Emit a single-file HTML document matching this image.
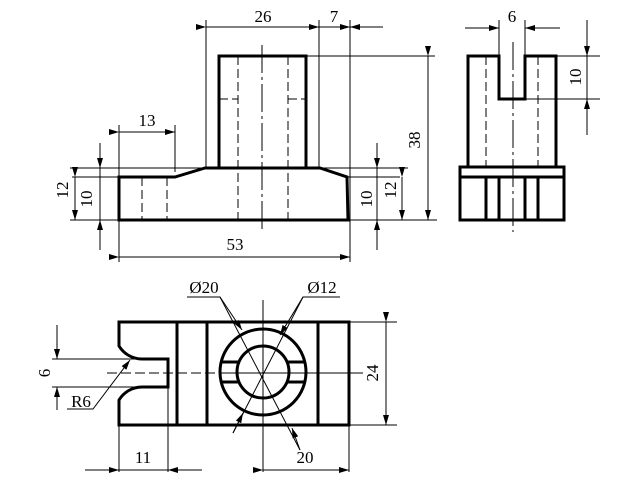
<!DOCTYPE html>
<html><head><meta charset="utf-8"><style>
html,body{margin:0;padding:0;background:#fff;}
svg{display:block}
text{font-family:"Liberation Serif",serif;font-size:17px;fill:#000}
</style></head><body>
<svg width="640" height="480" viewBox="0 0 640 480" xmlns="http://www.w3.org/2000/svg">
<defs>
<marker id="a" markerWidth="10" markerHeight="6" refX="10" refY="3" orient="auto" markerUnits="userSpaceOnUse">
<path d="M0,0 L10,3 L0,6 z" fill="#000"/></marker>
</defs>
<g fill="none" stroke="#000">
<!-- FRONT VIEW -->
<g stroke-width="3">
<path d="M119,177 L175,177 L205,168 L320,168 L347,177 L348,220 L119,220 Z"/>
<path d="M219,168 L219,56 L306,56 L306,168"/>
</g>
<g stroke-width="1" stroke-dasharray="9,4">
<path d="M238,56 V220 M288,56 V220 M142,177 V220 M167,177 V220 M219,99 H238 M288,99 H306"/>
</g>
<path stroke-width="1" stroke-dasharray="28,4,3,4" d="M262,45 V232"/>
<g stroke-width="1">
<path d="M206,20 V168 M319,20 V168 M350,20 V262"/>
<path d="M206,27 H319" marker-start="url(#a)" marker-end="url(#a)"/>
<path d="M319,27 H350" marker-end="url(#a)"/>
<path d="M383,27 H350" marker-end="url(#a)"/>
<path d="M306,56 H435 M348,220 H437 M320,168 H408 M348,177 H400"/>
<path d="M428,56 V220" marker-start="url(#a)" marker-end="url(#a)"/>
<path d="M119,125 V262 M175,125 V172"/>
<path d="M119,132 H175" marker-start="url(#a)" marker-end="url(#a)"/>
<path d="M70,168 H205 M72,177 H119 M70,220 H119"/>
<path d="M100,143 V168" marker-end="url(#a)"/>
<path d="M100,250 V220" marker-end="url(#a)"/>
<path d="M100,168 V220"/>
<path d="M75,177 V220" marker-start="url(#a)" marker-end="url(#a)"/>
<path d="M377,143 V168" marker-end="url(#a)"/>
<path d="M377,250 V220" marker-end="url(#a)"/>
<path d="M377,168 V220"/>
<path d="M402,177 V220" marker-start="url(#a)" marker-end="url(#a)"/>
<path d="M119,257 H350" marker-start="url(#a)" marker-end="url(#a)"/>
</g>
<!-- SIDE VIEW -->
<g stroke-width="3">
<path d="M468,167 V56 H499 V99 H525 V56 H556 V167"/>
<rect x="460" y="167" width="104" height="53"/>
<path d="M460,177 H564 M486,177 V220 M499,177 V220 M525,177 V220 M538,177 V220"/>
</g>
<path stroke-width="1" stroke-dasharray="9,4" d="M486,56 V167 M538,56 V167"/>
<path stroke-width="1" stroke-dasharray="28,4,3,4" d="M513,42 V232"/>
<g stroke-width="1">
<path d="M499,20 V56 M525,20 V56"/>
<path d="M465,28 H499" marker-end="url(#a)"/>
<path d="M560,28 H525" marker-end="url(#a)"/>
<path d="M556,56 H600 M525,99 H600"/>
<path d="M587,20 V56" marker-end="url(#a)"/>
<path d="M587,135 V99" marker-end="url(#a)"/>
<path d="M587,56 V99"/>
</g>
<!-- TOP VIEW -->
<g stroke-width="3">
<path d="M119,322 H349 V425 H119 V400 A27,27 0 0 1 142,387 H168 V359 H142 A27,27 0 0 1 119,346 Z"/>
<path d="M177,322 V425 M207,322 V425 M318,322 V425"/>
<circle cx="263" cy="372" r="43"/>
<circle cx="263" cy="372" r="26"/>
<path d="M221,362 H239 M221,382 H239 M287,362 H305 M287,382 H305"/>
</g>
<path stroke-width="1" stroke-dasharray="10,4" d="M107,373 H220"/>
<path stroke-width="1" d="M220,373 H363 M263,300 V470"/>
<g stroke-width="1">
<path d="M187,297 H220 L300,450"/>
<path d="M220,297 L242,330" marker-end="url(#a)"/>
<path d="M300,450 L292,428" marker-end="url(#a)"/>
<path d="M340,297 H303 L233,433"/>
<path d="M303,297 L280,335" marker-end="url(#a)"/>
<path d="M233,433 L243,413" marker-end="url(#a)"/>
<path d="M67,409 H93 L130,360" marker-end="url(#a)"/>
<path d="M52,359 H142 M52,387 H142"/>
<path d="M57,325 V359" marker-end="url(#a)"/>
<path d="M57,410 V387" marker-end="url(#a)"/>
<path d="M349,322 H397 M349,425 H397"/>
<path d="M386,322 V425" marker-start="url(#a)" marker-end="url(#a)"/>
<path d="M119,425 V472 M168,387 V472 M263,425 V472 M349,425 V472"/>
<path d="M85,470 H119" marker-end="url(#a)"/>
<path d="M202,470 H168" marker-end="url(#a)"/>
<path d="M119,470 H168"/>
<path d="M263,470 H349" marker-start="url(#a)" marker-end="url(#a)"/>
</g>
</g>
<!-- TEXT -->
<text x="263" y="22" text-anchor="middle">26</text>
<text x="334" y="22" text-anchor="middle">7</text>
<text x="147" y="126" text-anchor="middle">13</text>
<text x="235" y="250" text-anchor="middle">53</text>
<text transform="translate(420,140) rotate(-90)" text-anchor="middle">38</text>
<text transform="translate(68,190) rotate(-90)" text-anchor="middle">12</text>
<text transform="translate(92,199) rotate(-90)" text-anchor="middle">10</text>
<text transform="translate(372,199) rotate(-90)" text-anchor="middle">10</text>
<text transform="translate(396,190) rotate(-90)" text-anchor="middle">12</text>
<text x="512" y="22" text-anchor="middle">6</text>
<text transform="translate(581,77) rotate(-90)" text-anchor="middle">10</text>
<text x="204" y="293" text-anchor="middle">Ø20</text>
<text x="322" y="293" text-anchor="middle">Ø12</text>
<text x="81" y="407" text-anchor="middle">R6</text>
<text transform="translate(50,373) rotate(-90)" text-anchor="middle">6</text>
<text transform="translate(378,373) rotate(-90)" text-anchor="middle">24</text>
<text x="143" y="463" text-anchor="middle">11</text>
<text x="305" y="463" text-anchor="middle">20</text>
</svg>
</body></html>
